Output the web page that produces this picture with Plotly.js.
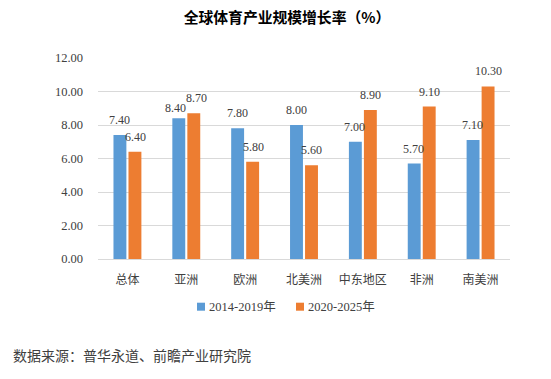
<!DOCTYPE html>
<html>
<head>
<meta charset="utf-8">
<script src="https://cdn.plot.ly/plotly-3.0.1.min.js"></script>
<style>html,body{margin:0;padding:0;background:#fff;}#chart{width:551px;height:379px;}</style>
</head>
<body>
<div id="chart"></div>
<script>
const categories = ["总体", "亚洲", "欧洲", "北美洲", "中东地区", "非洲", "南美洲"];
const series1Name = "2014-2019年";
const series2Name = "2020-2025年";
const series1 = [7.40, 8.40, 7.80, 8.00, 7.00, 5.70, 7.10];
const series2 = [6.40, 8.70, 5.80, 5.60, 8.90, 9.10, 10.30];
const yTicks = [0, 2, 4, 6, 8, 10, 12];
const yTickLabels = ["0.00", "2.00", "4.00", "6.00", "8.00", "10.00", "12.00"];

const FONT = '"Liberation Serif", "Noto Sans CJK SC", serif';
const CJK = '"Noto Sans CJK SC", serif';
const C1 = '#5b9bd5', C2 = '#ed7d31';
const ML = 98, MR = 41, MT = 58, MB = 120;
const PW = 551 - ML - MR, PH = 379 - MT - MB; // plot area size in px

const mk = (name, vals, color) => ({
  type: 'bar', name: name, x: categories, y: vals,
  marker: {color: color}, hoverinfo: 'none', showlegend: false
});
const data = [mk(series1Name, series1, C1), mk(series2Name, series2, C2)];

const annotations = [];
const labFont = {family: FONT, size: 12, color: '#404040'};
categories.forEach((c, i) => {
  const a = series1[i], b = series2[i];
  const close = Math.abs(a - b) < 0.5;
  annotations.push({x: c, y: a, xref: 'x', yref: 'y', text: a.toFixed(2), showarrow: false,
    xshift: close ? -10.5 : -7.9, yshift: close ? 10 : 15, yanchor: 'middle', font: labFont});
  annotations.push({x: c, y: b, xref: 'x', yref: 'y', text: b.toFixed(2), showarrow: false,
    xshift: close ? 10 : 7.9, yshift: 15, yanchor: 'middle', font: labFont});
});
// legend (custom, to match tight symbol/text spacing)
const legY = -47.7 / PH;
const legItems = [[series1Name, C1, 197], [series2Name, C2, 296]];
const shapes = [];
legItems.forEach(([name, col, px]) => {
  const x0 = (px - ML) / PW;
  shapes.push({type: 'rect', xref: 'paper', yref: 'paper', x0: x0, x1: x0 + 8 / PW,
    y0: legY - 4 / PH, y1: legY + 4 / PH, fillcolor: col, line: {width: 0}});
  annotations.push({text: name, xref: 'paper', yref: 'paper', x: x0 + 10 / PW, xanchor: 'left',
    y: legY, yanchor: 'middle', showarrow: false, font: {family: FONT, size: 12.5, color: '#404040'}});
});
annotations.push({text: '数据来源：普华永道、前瞻产业研究院', xref: 'paper', yref: 'paper',
  x: (11 - ML) / PW, xanchor: 'left', y: -(355 - (379 - MB)) / PH, yanchor: 'middle', showarrow: false,
  font: {family: CJK, size: 14, color: '#404040'}});

const layout = {
  width: 551, height: 379,
  margin: {l: ML, r: MR, t: MT, b: MB},
  paper_bgcolor: '#fff', plot_bgcolor: '#fff',
  font: {family: FONT, color: '#404040', size: 12},
  title: {text: '<b>全球体育产业规模增长率（%）</b>', x: 287 / 551, xanchor: 'center', y: 1 - 18 / 379, yanchor: 'middle',
          font: {family: '"Noto Sans CJK SC", sans-serif', size: 14.8, color: '#000'}},
  barmode: 'group', bargap: 0.49, bargroupgap: 0.14,
  xaxis: {showgrid: false, zeroline: false, showline: false, ticks: '', ticklabelstandoff: 12,
          tickfont: {family: CJK, size: 12, color: '#404040'}},
  yaxis: {range: [0, 12], tickvals: yTicks, ticktext: yTickLabels, showgrid: true,
          gridcolor: '#d9d9d9', gridwidth: 1, zeroline: true, zerolinecolor: '#d9d9d9', showline: false,
          ticklabelstandoff: 14, tickfont: {family: FONT, size: 12.5, color: '#404040'}},
  showlegend: false,
  shapes: shapes,
  annotations: annotations
};
Plotly.newPlot('chart', data, layout, {displayModeBar: false, staticPlot: true});
</script>
</body>
</html>
